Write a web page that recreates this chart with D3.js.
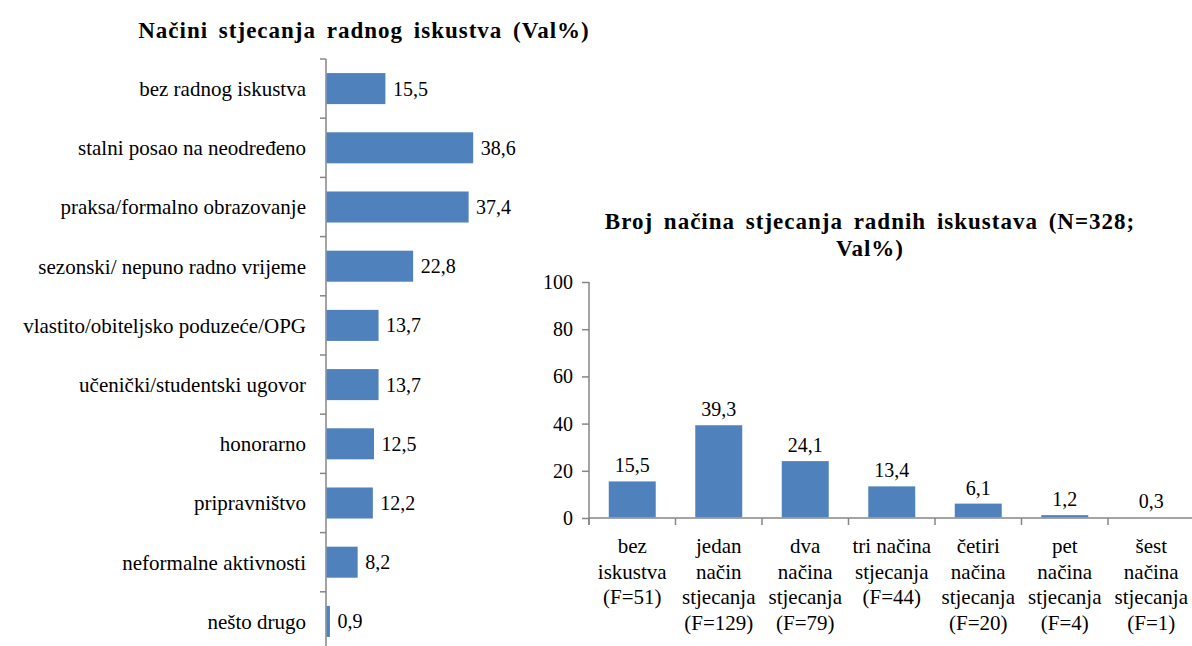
<!DOCTYPE html>
<html>
<head>
<meta charset="utf-8">
<script src="https://cdn.jsdelivr.net/npm/d3@7"></script>
<style>
  body { margin: 0; background: #fff; }
  svg text { font-family: "Times New Roman", "Liberation Serif", Tinos, "DejaVu Serif", serif; fill: #000; }
</style>
</head>
<body>
<svg id="chart" width="1192" height="646"></svg>
<script>
// Left chart: ways of gaining work experience
const waysLabels = [
  "bez radnog iskustva",
  "stalni posao na neodređeno",
  "praksa/formalno obrazovanje",
  "sezonski/ nepuno radno vrijeme",
  "vlastito/obiteljsko poduzeće/OPG",
  "učenički/studentski ugovor",
  "honorarno",
  "pripravništvo",
  "neformalne aktivnosti",
  "nešto drugo"
];
const waysValues = [15.5, 38.6, 37.4, 22.8, 13.7, 13.7, 12.5, 12.2, 8.2, 0.9];

// Right chart: number of ways
const countLabels = [
  "bez\niskustva\n(F=51)",
  "jedan\nnačin\nstjecanja\n(F=129)",
  "dva\nnačina\nstjecanja\n(F=79)",
  "tri načina\nstjecanja\n(F=44)",
  "četiri\nnačina\nstjecanja\n(F=20)",
  "pet\nnačina\nstjecanja\n(F=4)",
  "šest\nnačina\nstjecanja\n(F=1)"
];
const countValues = [15.5, 39.3, 24.1, 13.4, 6.1, 1.2, 0.3];
const yTicks = [0, 20, 40, 60, 80, 100];

const barColor = "#4F81BD", axisColor = "#868686";
const serif = "'Times New Roman', 'Liberation Serif', Tinos, 'DejaVu Serif', serif";
const fmt = v => String(v.toFixed(1)).replace(".", ",");
const svg = d3.select("#chart");

// ---- left chart ----
const lx0 = 326;
const ly = d3.scaleBand().domain(waysLabels).range([59, 651])
  .paddingInner(0.476).paddingOuter(0.238);
const lx = d3.scaleLinear().domain([0, 10]).range([lx0, lx0 + 38]);
const lstep = ly.step();

svg.append("text")
  .attr("x", 364).attr("y", 38)
  .attr("text-anchor", "middle")
  .attr("font-family", serif)
  .style("font-size", "23px").style("font-weight", "bold")
  .style("letter-spacing", "1px").style("word-spacing", "4px")
  .text("Načini stjecanja radnog iskustva (Val%)");

const left = svg.append("g").attr("font-family", serif);
left.append("line")
  .attr("x1", lx0).attr("x2", lx0).attr("y1", 59).attr("y2", 651)
  .attr("stroke", axisColor).attr("stroke-width", 1.5);
d3.range(waysLabels.length + 1).forEach(i => {
  const y = 59 + i * lstep;
  left.append("line")
    .attr("x1", lx0 - 6).attr("x2", lx0).attr("y1", y).attr("y2", y)
    .attr("stroke", axisColor).attr("stroke-width", 1.5);
});

left.selectAll("rect").data(waysValues).enter().append("rect")
  .attr("x", lx0 + 0.5)
  .attr("y", (d, i) => ly(waysLabels[i]))
  .attr("width", d => lx(d) - lx0)
  .attr("height", ly.bandwidth())
  .attr("fill", barColor);

left.selectAll("text.val").data(waysValues).enter().append("text")
  .attr("class", "val")
  .attr("x", d => lx(d) + 8)
  .attr("y", (d, i) => ly(waysLabels[i]) + ly.bandwidth() / 2)
  .attr("dy", "0.35em")
  .style("font-size", "20px")
  .text(fmt);

left.selectAll("text.cat").data(waysLabels).enter().append("text")
  .attr("class", "cat")
  .attr("x", lx0 - 20)
  .attr("y", d => ly(d) + ly.bandwidth() / 2)
  .attr("dy", "0.35em")
  .attr("text-anchor", "end")
  .style("font-size", "21px")
  .text(d => d);

// ---- right chart ----
const rx0 = 589, ry0 = 518;
const rx = d3.scaleBand().domain(countLabels).range([rx0, rx0 + 7 * 86.5])
  .paddingInner(0.457).paddingOuter(0.2285);
const ry = d3.scaleLinear().domain([0, 100]).range([ry0, 282]);
const rstep = rx.step();

const title2 = svg.append("text")
  .attr("x", 870).attr("y", 229)
  .attr("text-anchor", "middle")
  .attr("font-family", serif)
  .style("font-size", "23px").style("font-weight", "bold")
  .style("letter-spacing", "1px").style("word-spacing", "4px");
title2.append("tspan").attr("x", 870).text("Broj načina stjecanja radnih iskustava (N=328;");
title2.append("tspan").attr("x", 870).attr("dy", 27).text("Val%)");

const right = svg.append("g").attr("font-family", serif);

const yAxis = right.append("g")
  .attr("transform", `translate(${rx0},0)`)
  .call(d3.axisLeft(ry).tickValues(yTicks).tickSize(7).tickPadding(9).tickFormat(d3.format("d")));
yAxis.attr("font-family", serif).attr("font-size", 20);
yAxis.select(".domain").attr("stroke", axisColor).attr("stroke-width", 1.5)
  .attr("d", `M0,${ry(100)}V${ry0 + 7}`);
yAxis.selectAll(".tick line").attr("stroke", axisColor).attr("stroke-width", 1.5);
yAxis.selectAll(".tick text").attr("fill", "#000");

right.append("line")
  .attr("x1", rx0).attr("x2", 1192).attr("y1", ry0).attr("y2", ry0)
  .attr("stroke", axisColor).attr("stroke-width", 1.5);
d3.range(countLabels.length + 1).forEach(i => {
  const x = rx0 + i * rstep;
  right.append("line")
    .attr("x1", x).attr("x2", x).attr("y1", ry0).attr("y2", ry0 + 7)
    .attr("stroke", axisColor).attr("stroke-width", 1.5);
});

right.selectAll("rect").data(countValues).enter().append("rect")
  .attr("x", (d, i) => rx(countLabels[i]))
  .attr("y", d => ry(d))
  .attr("width", rx.bandwidth())
  .attr("height", d => ry0 - ry(d) - 0.75)
  .attr("fill", barColor);

right.selectAll("text.val").data(countValues).enter().append("text")
  .attr("class", "val")
  .attr("x", (d, i) => rx(countLabels[i]) + rx.bandwidth() / 2)
  .attr("y", d => ry(d) - 9)
  .attr("text-anchor", "middle")
  .style("font-size", "20px")
  .text(fmt);

countLabels.forEach(lbl => {
  const t = right.append("text")
    .attr("x", rx(lbl) + rx.bandwidth() / 2)
    .attr("y", 553)
    .attr("text-anchor", "middle")
    .style("font-size", "21px");
  lbl.split("\n").forEach((line, j) => {
    t.append("tspan")
      .attr("x", rx(lbl) + rx.bandwidth() / 2)
      .attr("dy", j === 0 ? 0 : 25.5)
      .text(line);
  });
});
</script>
</body>
</html>
